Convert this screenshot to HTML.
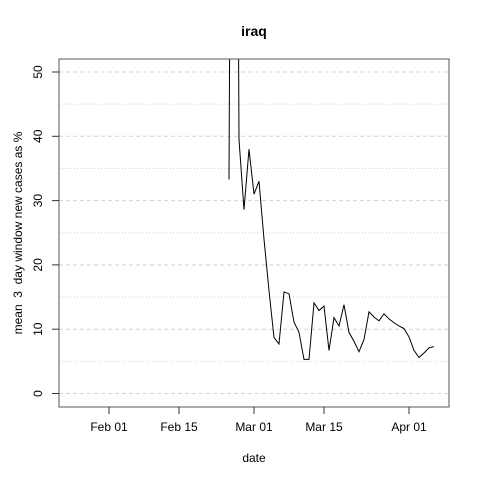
<!DOCTYPE html>
<html><head><style>body{margin:0;background:#fff}svg{display:block;font-family:"Liberation Sans",sans-serif}</style></head>
<body>
<svg id="c" width="480" height="480">
<rect width="480" height="480" fill="#fff"/>
<text x="254" y="36" text-anchor="middle" font-weight="bold" font-size="14">iraq</text>
<text x="254" y="462" text-anchor="middle" font-size="12">date</text>
<text transform="translate(22,233) rotate(-90)" text-anchor="middle" font-size="12" style="white-space:pre" xml:space="preserve">mean  3  day window new cases as %</text>
<defs><clipPath id="clip"><rect x="59" y="59" width="390" height="348"/></clipPath></defs>
<g id="grid"></g>
<g id="series" clip-path="url(#clip)"></g>
<rect x="59" y="59" width="390" height="348" fill="none" stroke="#555"/>
<g id="axes"></g>
</svg>
<script>
const startDay = 24; // days after Feb 01
const values = [33.3,200,39.5,28.6,38,31,33,24,16,8.7,7.7,15.8,15.5,11.1,9.5,5.3,5.3,14.1,12.9,13.6,6.7,11.8,10.5,13.8,9.5,8.1,6.5,8.4,12.7,11.9,11.3,12.4,11.6,11,10.5,10.1,8.8,6.7,5.6,6.3,7.1,7.3];
const yTicks = [0,10,20,30,40,50];
const yMinor = [5,15,25,35,45];
const xTickLabels = ["Feb 01","Feb 15","Mar 01","Mar 15","Apr 01"];
const xTickDays = [0,14,29,43,60];
const NS="http://www.w3.org/2000/svg";
const xs = d => 109 + 5*d;
const ys = v => 393.5 - 6.43*v;
const grid=document.getElementById('grid'), axes=document.getElementById('axes'), ser=document.getElementById('series');
function mk(tag,attrs,parent){const e=document.createElementNS(NS,tag);for(const k in attrs)e.setAttribute(k,attrs[k]);parent.appendChild(e);return e;}
yTicks.forEach(v=>{
  const g=mk('line',{x1:59,x2:449,y1:ys(v),y2:ys(v),stroke:'#d3d3d3','stroke-dasharray':'4,3'},grid);
  
  
  const t=mk('line',{x1:52,x2:59,y1:ys(v),y2:ys(v),stroke:'#333'},axes);
  
  
  const l=mk('text',{transform:`translate(42,${ys(v)}) rotate(-90)`,'text-anchor':'middle','font-size':12},axes);
  l.textContent=v;
  
  
});
yMinor.forEach(v=>{
  const g=mk('line',{x1:59,x2:449,y1:ys(v),y2:ys(v),stroke:'#d3d3d3','stroke-dasharray':'1,2'},grid);
  
  
});
xTickDays.forEach((d,i)=>{
  const t=mk('line',{x1:xs(d),x2:xs(d),y1:407,y2:414,stroke:'#333'},axes);
  
  
  const l=mk('text',{x:xs(d),y:431,'text-anchor':'middle','font-size':12},axes);
  l.textContent=xTickLabels[i];
  
  
});
const pts=values.map((v,i)=>xs(startDay+i)+','+ys(v)).join(' ');
const line=mk('polyline',{points:pts,fill:'none',stroke:'#000','stroke-width':1},ser);


</script>
</body></html>
